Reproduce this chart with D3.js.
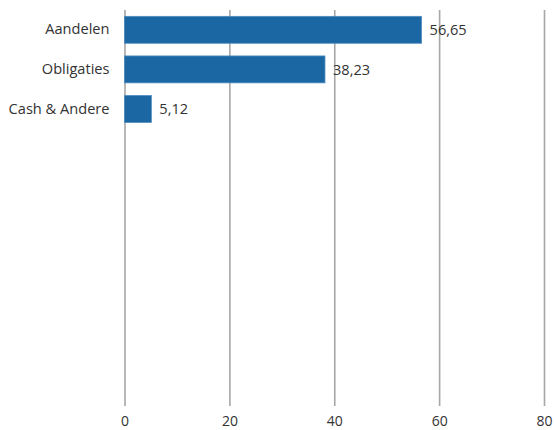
<!DOCTYPE html>
<html>
<head>
<meta charset="utf-8">
<script src="https://cdn.jsdelivr.net/npm/d3@7"></script>
<style>
  body { margin: 0; background: #fff; }
  text { font-family: "Open Sans", Lato, sans-serif; fill: #333; }
</style>
</head>
<body>
<script>
// data
const categories = ["Aandelen", "Obligaties", "Cash & Andere"]
const values = [56.65, 38.23, 5.12]
const labels = ["56,65", "38,23", "5,12"]
const ticks = [0, 20, 40, 60, 80]
const slots = 10 // the plot keeps room for 10 rows, only 3 are used

const w = 554
const h = 430
const pLeft = 124.5
const pRight = 544
const pTop = 10
const pBottom = 406
const fs = 14.6

const xScale = d3.scaleLinear()
                 .domain([0, 80])
                 .range([pLeft, pRight])
const yScale = d3.scaleBand()
                 .domain(d3.range(slots))
                 .range([pTop, pBottom])
                 .paddingInner(0.32)
                 .paddingOuter(0.16)

const svg = d3.select("body")
              .append("svg")
              .attr("width", w)
              .attr("height", h)

// vertical gridlines + tick labels
const xAxis = d3.axisBottom(xScale)
                .tickValues(ticks)
                .tickSize(pBottom - pTop)
                .tickFormat(d3.format("d"))
const gx = svg.append("g")
              .attr("transform", "translate(0," + pTop + ")")
              .call(xAxis)
gx.select(".domain").remove()
gx.selectAll("line")
  .attr("stroke", "#a6a6a6")
  .attr("stroke-width", 1.6)
gx.selectAll("text")
  .attr("y", 425.5 - pTop)
  .attr("dy", 0)
  .attr("font-size", 14)
  .attr("fill", "#333")

// bars
svg.selectAll("rect.bar")
   .data(values)
   .enter()
   .append("rect")
   .attr("class", "bar")
   .attr("x", xScale(0))
   .attr("y", (d, i) => yScale(i))
   .attr("width", (d) => xScale(d) - xScale(0))
   .attr("height", yScale.bandwidth())
   .attr("fill", "#1b67a3")
   .attr("stroke", "#4f8cc0")
   .attr("stroke-width", 0.8)

// value labels
svg.selectAll("text.val")
   .data(values)
   .enter()
   .append("text")
   .attr("class", "val")
   .attr("x", (d) => xScale(d) + 8)
   .attr("y", (d, i) => yScale(i) + yScale.bandwidth() / 2)
   .attr("dy", "0.35em")
   .attr("font-size", fs)
   .text((d, i) => labels[i])

// category labels
const catScale = d3.scaleBand()
                   .domain(categories)
                   .range([pTop, pTop + yScale.step() * categories.length])
                   .paddingInner(0.32)
                   .paddingOuter(0.16)
const yAxis = d3.axisLeft(catScale)
                .tickSize(0)
                .tickPadding(15)
const gy = svg.append("g")
              .attr("transform", "translate(" + pLeft + ",0)")
              .call(yAxis)
gy.select(".domain").remove()
gy.selectAll("text")
  .attr("font-size", fs)
  .attr("fill", "#333")
</script>
</body>
</html>
